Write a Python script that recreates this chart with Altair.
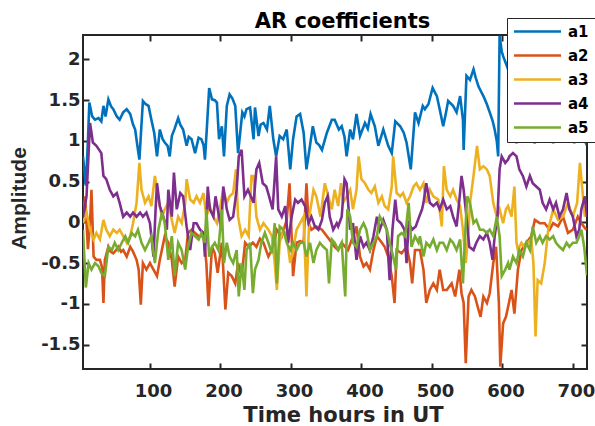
import altair as alt
import pandas as pd

# ---------------- data ----------------
series_names = ["a1", "a2", "a3", "a4", "a5"]
series_colors = ["#0072BD", "#D95319", "#EDB120", "#7E2F8E", "#77AC30"]

h1 = [5,9,12,14,18,22,27,31,34,37,41,45,48,53,57,62,67,72,76,79,82,85,87,90,94,98,102,106,110,114,
      118,121,125,128,131,135,140,143,147,152,155,159,164,169,173,176,178,181,184,188,192,195,198,202,205,209,213,217,221,225,
      228,231,234,237,242,247,249,254,257,261,266,270,275,279,284,289,294,299,303,308,313,318,322,327,331,336,340,344,351,358,
      362,368,372,376,379,384,388,393,398,405,409,413,419,424,431,438,443,448,455,460,464,470,476,481,487,490,495,501,507,511,
      516,520,523,530,535,540,544,545,549,554,559,562,566,570,573,578,582,586,589,592,594,596,599,601,605,608,612,616,620,624,
      630,636,641,646,650,656,662,667,672,676,682,688,694,698,702,706,710,714,718,720]
v1 = [0.81,0.45,1.0,1.47,1.30,1.26,1.28,1.24,1.43,1.30,1.51,1.42,1.39,1.30,1.26,1.35,1.39,1.33,1.20,1.14,
      0.95,0.77,1.06,1.49,1.45,1.43,1.26,1.10,0.81,1.14,1.02,0.98,0.94,0.81,1.06,1.15,1.28,1.20,1.14,0.94,
      1.05,1.02,0.85,1.04,1.02,0.95,0.77,1.20,1.65,1.51,1.50,1.47,1.02,1.18,0.81,1.43,1.57,1.52,1.43,0.85,
      1.10,1.35,1.30,1.39,1.41,1.02,1.41,1.06,1.20,1.22,1.14,1.43,1.02,0.81,1.06,1.02,1.14,0.65,1.02,1.30,
      1.33,1.10,0.65,0.94,1.18,0.98,0.95,0.89,1.10,1.26,1.26,1.14,1.18,1.05,0.81,1.14,1.02,1.33,1.06,1.22,
      1.15,1.33,1.18,0.94,1.14,0.94,0.85,1.24,1.18,1.10,0.98,0.65,1.35,1.22,1.43,1.39,1.45,1.65,1.55,1.39,
      1.18,1.35,1.49,1.43,1.35,1.55,1.26,0.89,1.80,1.75,1.88,1.78,1.67,1.60,1.55,1.45,1.35,1.25,1.14,1.00,
      0.81,2.29,2.10,2.04,1.95,1.88,1.70,1.35,0.97,1.30,1.45,1.30,1.15,0.97,1.25,1.40,1.30,1.20,0.97,1.25,
      1.35,1.20,1.10,1.15,0.97,1.20,1.30,1.05,0.98,1.05]

h2 = [5,8,12,15,17,20,24,29,32,34,36,41,44,48,52,55,59,62,67,72,76,81,84,87,90,95,100,105,110,114,
      119,121,126,131,135,140,145,150,154,159,164,169,176,180,183,188,192,196,202,207,211,216,221,225,230,235,240,246,251,256,
      261,268,275,280,287,294,298,301,303,308,313,318,322,325,329,336,344,351,358,362,367,372,377,381,388,393,398,403,407,412,
      417,422,429,433,438,443,447,450,457,464,469,472,476,483,488,492,497,502,507,511,516,521,528,533,539,542,545,548,552,556,
      561,566,569,573,578,582,587,591,595,597,601,605,609,613,617,622,627,634,641,646,653,660,667,672,679,686,693,700,707,712,719]
v2 = [0.10,0.32,-0.33,0.0,0.40,-0.42,-0.46,-0.46,-0.55,-0.99,-0.46,-0.30,-0.36,-0.38,-0.34,-0.30,-0.36,-0.34,-0.42,-0.30,
      -0.36,-0.46,-0.58,-1.01,-0.50,-0.58,-0.50,-0.58,-0.66,-0.46,-0.25,-0.17,-0.25,-0.46,-0.79,-0.42,-0.50,-0.46,-0.13,-0.09,
      -0.13,-0.17,-0.17,-0.50,-1.03,-0.30,-0.38,-0.62,-0.25,-1.07,-0.62,-0.66,-0.75,-0.50,-0.66,-0.25,-0.30,-0.25,-0.30,-0.20,
      -0.25,-0.42,-0.30,-0.09,-0.17,0.03,0.48,-0.17,-0.66,-0.25,-0.23,-0.25,0.48,-0.01,-0.09,-0.05,-0.09,-0.17,-0.25,-0.30,
      -0.34,-0.25,-0.30,-0.34,-0.17,-0.05,-0.42,-0.54,-0.50,-0.58,-0.34,-0.17,-0.25,-0.30,-0.42,-0.66,-0.99,-0.34,-0.38,-0.30,
      -0.50,-0.75,-0.34,-0.34,-0.58,-0.99,-0.83,-0.75,-0.83,-0.58,-0.83,-0.83,-0.75,-0.91,-0.58,-0.87,-0.99,-1.73,-0.91,-0.83,
      -0.91,-1.07,-1.16,-0.91,-0.99,-0.87,-0.50,-0.30,-0.99,-1.77,-1.24,-1.16,-1.00,-0.83,-1.12,-0.58,-0.34,-0.25,-0.17,0.03,
      -0.01,-0.01,-0.09,-0.01,-0.05,0.07,-0.13,-0.09,0.07,-0.01,-0.09]

h3 = [5,10,15,20,24,29,34,38,43,48,53,57,62,67,72,76,81,85,88,93,98,102,107,112,117,121,126,131,135,140,
      145,150,152,157,162,166,171,176,180,185,190,195,199,204,209,213,218,222,225,230,235,240,244,247,251,256,261,268,273,277,
      280,284,289,294,299,303,308,313,318,322,326,332,336,342,348,353,358,362,367,371,374,379,384,388,393,396,400,405,410,414,
      419,424,429,433,438,443,445,450,455,459,464,469,474,478,483,488,492,497,502,509,514,517,521,526,530,535,540,544,548,552,
      554,559,564,568,573,578,582,587,592,596,601,605,608,613,617,620,622,627,631,636,641,644,647,650,655,660,665,672,679,686,
      693,700,706,710,713,717,720]
v3 = [-0.01,0.12,-0.09,-0.21,-0.13,-0.21,0.03,-0.09,-0.17,-0.09,-0.13,-0.09,-0.17,-0.25,-0.17,-0.01,0.24,0.73,0.40,0.24,
      0.32,0.20,0.57,0.28,0.07,0.16,0.24,0.03,-0.13,0.07,-0.01,0.24,0.53,0.28,0.24,0.32,0.24,0.36,0.07,0.20,
      0.07,-0.01,0.16,0.40,0.24,0.32,0.36,0.65,0.07,-0.17,-0.09,-0.17,0.57,0.57,0.07,-0.09,-0.01,-0.09,-0.17,-0.50,
      -0.83,-0.25,-0.09,-0.17,-0.50,-0.34,-0.09,-0.01,0.07,-0.91,0.07,0.40,0.32,0.07,0.48,0.32,0.16,0.40,0.20,0.48,
      0.24,0.32,0.40,0.16,0.40,0.81,0.53,0.48,0.40,0.36,0.44,0.24,0.32,0.20,0.16,0.44,0.81,0.36,0.32,0.36,
      0.24,0.32,0.44,0.48,0.40,0.48,0.24,0.40,0.32,0.28,-0.05,0.69,0.40,0.32,0.40,0.28,0.20,-0.09,-0.50,-0.09,
      0.24,0.57,0.94,0.65,0.69,0.65,0.57,0.24,0.07,0.16,-0.01,0.16,0.20,0.07,0.44,-0.25,-0.34,-0.25,-0.30,-0.25,
      -0.21,-0.50,-1.40,-0.71,-0.75,-0.50,-0.09,0.16,0.03,0.07,0.24,0.07,0.24,0.73,0.44,0.07,0.20]

h4 = [5,10,15,19,24,31,34,38,43,48,53,57,62,67,72,76,81,86,90,95,100,105,108,110,114,119,124,126,131,134,
      138,143,147,152,157,162,166,171,176,178,182,185,190,193,197,201,204,209,213,218,223,226,230,234,239,243,247,251,255,260,
      265,269,274,279,282,287,292,296,301,306,310,315,320,325,329,334,339,344,348,352,355,360,365,367,372,376,379,384,388,393,
      398,403,407,412,417,422,426,431,436,440,444,448,451,456,461,464,467,472,477,482,486,488,492,497,502,507,511,516,521,526,
      530,535,539,542,545,549,553,559,563,568,573,578,582,586,589,593,596,599,604,608,610,615,620,624,629,634,639,643,648,653,
      657,662,667,672,676,681,686,691,695,700,705,709,712,717,720]
v4 = [0.07,0.32,1.22,0.98,0.94,0.85,0.57,0.53,0.40,0.32,0.36,0.24,0.07,0.12,0.07,0.12,0.07,0.12,0.07,0.12,
      -0.01,-0.42,0.16,0.48,0.20,0.07,-0.09,0.40,0.07,0.61,0.16,0.36,0.32,-0.05,-0.34,-0.01,-0.01,-0.09,-0.13,-0.42,
      0.44,0.16,0.07,0.32,0.12,-0.09,0.44,0.16,0.03,0.07,0.40,0.81,0.89,0.32,0.40,0.32,0.24,0.65,0.73,0.48,
      0.44,0.32,0.16,0.81,0.16,0.07,0.20,-0.25,0.07,0.28,0.24,0.28,0.20,-0.01,0.07,-0.05,-0.09,0.03,0.24,0.32,
      0.07,-0.09,-0.01,-0.05,0.07,0.53,0.48,-0.09,-0.01,-0.46,-0.17,-0.30,-0.25,-0.34,-0.17,0.07,-0.09,0.03,-0.09,-0.71,
      -0.09,0.28,0.03,-0.01,-0.09,-0.50,-0.01,-0.09,-0.05,0.07,0.16,0.24,0.48,0.24,0.20,0.24,0.16,0.28,0.16,0.20,
      0.07,-0.05,0.28,0.57,0.40,0.07,-0.30,-0.34,-0.25,-0.17,-0.21,-0.13,-0.25,-0.46,-0.17,0.07,0.65,0.81,0.73,0.77,
      0.81,0.85,0.81,0.65,0.57,0.44,0.57,0.48,0.44,0.40,0.24,0.16,0.28,0.16,0.24,0.07,0.16,0.36,0.16,0.07,
      -0.17,-0.09,0.16,0.32,0.07]

h5 = [5,9,13,17,22,27,31,36,41,46,50,55,60,65,69,74,79,83,88,93,98,102,107,112,117,121,126,131,135,140,
      145,150,154,159,164,169,173,178,180,184,188,192,197,202,205,209,213,218,223,226,230,234,237,242,246,249,254,258,263,268,
      273,277,280,284,289,294,299,303,308,313,318,322,327,332,336,341,346,351,354,358,362,367,372,377,380,384,388,393,398,403,
      407,412,417,422,426,431,436,440,445,449,452,457,462,467,471,476,481,483,488,492,497,502,507,511,516,521,526,530,535,540,
      544,547,550,554,559,563,568,573,578,582,587,592,596,599,604,608,610,615,620,624,629,634,639,643,648,653,657,662,667,672,
      676,681,686,691,695,700,705,709,712,716,720]
v5 = [-0.09,-0.80,-0.50,-0.58,-0.50,-0.54,-0.62,-0.66,-0.30,-0.34,-0.25,-0.34,-0.25,-0.17,-0.25,-0.13,-0.17,-0.09,-0.25,-0.34,
      -0.25,-0.17,-0.50,-0.09,0.12,-0.01,-0.46,-0.17,-0.66,-0.25,-0.34,-0.58,-0.30,-0.13,-0.17,-0.21,-0.13,-0.25,0.16,-0.42,
      -0.30,-0.25,-0.34,0.16,-0.50,-0.25,-0.42,-0.50,-0.34,-0.91,-0.50,-0.83,-0.34,-0.25,-0.87,-0.58,-0.46,-0.25,-0.13,-0.25,
      -0.38,-0.01,-0.75,-0.05,-0.09,-0.25,-0.34,-0.25,-0.34,-0.25,-0.25,-0.42,-0.25,-0.50,-0.34,-0.25,-0.30,-0.34,-0.75,-0.21,
      -0.25,-0.34,-0.25,-0.91,0.16,0.07,-0.25,-0.30,-0.09,-0.01,-0.09,-0.34,-0.25,-0.17,0.07,-0.01,-0.09,-0.25,-0.42,-0.58,
      -0.17,-0.13,-0.17,0.24,-0.30,-0.17,-0.25,-0.17,-0.42,-0.25,-0.30,-0.21,-0.34,-0.25,-0.25,-0.34,-0.21,-0.25,-0.34,-0.21,
      -0.75,-0.17,0.32,0.24,-0.01,0.03,-0.09,-0.09,-0.13,-0.09,-0.17,0.07,-0.17,-0.66,-0.58,-0.50,-0.58,-0.42,-0.50,-0.34,
      -0.42,-0.25,-0.34,-0.05,-0.25,-0.17,-0.25,-0.17,-0.21,-0.17,-0.25,-0.30,-0.34,-0.25,-0.30,-0.25,-0.25,-0.17,-0.09,-0.30,
      -0.65]

x_ticks = [100, 200, 300, 400, 500, 600, 700]
y_ticks = [-1.5, -1, -0.5, 0, 0.5, 1, 1.5, 2]
x_domain = [5, 720]
y_domain = [-1.8, 2.3]

# ---------------- build table ----------------
rows = []
for name, hs, vs in zip(series_names, [h1, h2, h3, h4, h5], [v1, v2, v3, v4, v5]):
    assert len(hs) == len(vs), name
    for h, v in zip(hs, vs):
        rows.append({"hour": h, "value": v, "series": name})
df = pd.DataFrame(rows)

W, H = 504, 334
INK = "#262626"
FONT = "DejaVu Sans"

xs = alt.Scale(domain=x_domain, nice=False, zero=False)
ys = alt.Scale(domain=y_domain, nice=False, zero=False)

lines = alt.Chart(df).mark_line(strokeWidth=2.6, clip=True).encode(
    x=alt.X("hour:Q", scale=xs, axis=alt.Axis(
        values=x_ticks, title="Time hours in UT", grid=False, domain=False, ticks=False,
        tickSize=0, labelPadding=13, labelOffset=3, labelFont=FONT, labelFontSize=18,
        labelFontWeight="bold", labelColor=INK, titleFont=FONT, titleFontSize=21,
        titleFontWeight="bold", titleColor=INK, titleBaseline="alphabetic",
        titleX=W / 2 + 8, titleY=52)),
    y=alt.Y("value:Q", scale=ys, axis=alt.Axis(
        values=y_ticks, title="Amplitude", grid=False, domain=False, ticks=False,
        tickSize=0, labelPadding=3, labelExpr="'' + datum.value", labelFont=FONT,
        labelFontSize=18, labelFontWeight="bold", labelColor=INK,
        titleFont="Liberation Sans", titleFontSize=21, titleFontWeight="bold",
        titleColor=INK, titleAngle=270, titleBaseline="middle", titleAlign="center",
        titleX=-64, titleY=H / 2 - 4)),
    color=alt.Color("series:N", scale=alt.Scale(domain=series_names, range=series_colors),
                    legend=alt.Legend(title=None, orient="none", legendX=424, legendY=-17,
                                      symbolType="M-4,0H4", symbolSize=138,
                                      symbolStrokeWidth=2.4, symbolOffset=17,
                                      labelFont=FONT, labelFontSize=15,
                                      labelFontWeight="bold", labelColor="#000000",
                                      labelOffset=23, strokeColor=INK,
                                      fillColor="white", padding=6, rowPadding=8)),
)


def tick_layer(x_orient, y_orient, title=None):
    x_axis_kw = dict(orient=x_orient, offset=-H, values=x_ticks, labels=False,
                     grid=False, domain=False, ticks=True, tickSize=6, tickWidth=2,
                     tickColor=INK)
    if title is not None:
        x_axis_kw.update(title=title, titleFont=FONT, titleFontSize=21,
                         titleFontWeight="bold", titleColor="#000000",
                         titleBaseline="alphabetic", titleX=W / 2 + 7, titleY=-8)
    else:
        x_axis_kw.update(title=None)
    return alt.Chart(df).mark_line(strokeOpacity=0).encode(
        x=alt.X("hour:Q", scale=xs, axis=alt.Axis(**x_axis_kw)),
        y=alt.Y("value:Q", scale=ys, axis=alt.Axis(
            orient=y_orient, offset=-W, values=y_ticks, labels=False, title=None,
            grid=False, domain=False, ticks=True, tickSize=6, tickWidth=2, tickColor=INK)),
    )


chart = alt.layer(
    tick_layer("top", "right"),
    tick_layer("bottom", "left", title="AR coefficients"),
    lines,
).resolve_axis(x="independent", y="independent").properties(
    width=W, height=H,
    autosize=alt.AutoSizeParams(type="none"),
    padding={"left": 83, "top": 35, "right": 8, "bottom": 57},
    background="white",
).configure_view(stroke=INK, strokeWidth=2)

chart.save("out.html", embed_options={"renderer": "svg", "actions": False})
